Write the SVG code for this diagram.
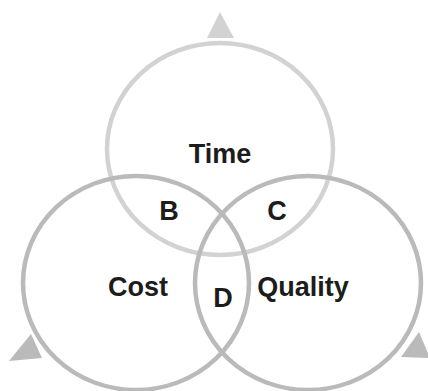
<svg xmlns="http://www.w3.org/2000/svg" width="428" height="391" viewBox="0 0 428 391">
<style>
.ring{fill:none;stroke-width:4.5}
.t{stroke:#d2d2d2}
.s{stroke:#bababa}
.at{fill:#d2d2d2}
.as{fill:#bababa}
.lbl{font-family:"Liberation Sans",Arial,sans-serif;font-weight:bold;font-size:27px;fill:#1c1c1c;text-anchor:middle}
</style>
<rect width="428" height="391" fill="#ffffff"/>
<g id="time">
<ellipse class="ring t" cx="220" cy="149" rx="113" ry="106"/>
<polygon class="at" points="220,12 207,38 234,38"/>
</g>
<g id="cost">
<ellipse class="ring s" cx="136" cy="283" rx="113" ry="107"/>
<polygon class="as" points="31,334 9,361 42,358"/>
</g>
<g id="quality">
<ellipse class="ring s" cx="308" cy="283" rx="113" ry="107"/>
<polygon class="as" points="419,332 401,357 430,358"/>
</g>
<g id="labels">
<text class="lbl" x="220" y="163">Time</text>
<text class="lbl" x="169" y="220">B</text>
<text class="lbl" x="277" y="220">C</text>
<text class="lbl" x="138" y="296">Cost</text>
<text class="lbl" x="223" y="307">D</text>
<text class="lbl" x="303" y="296">Quality</text>
</g>
<g id="connectors"></g>
</svg>
